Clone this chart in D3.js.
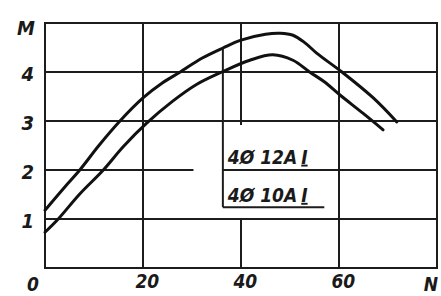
<!DOCTYPE html>
<html>
<head>
<meta charset="utf-8">
<script src="https://cdn.jsdelivr.net/npm/d3@7"></script>
<style>
  body { margin: 0; background: #fff; }
  text { font-family: "DejaVu Sans Condensed", "DejaVu Sans", sans-serif; font-style: italic; font-weight: bold; fill: #1a1a1a; }
</style>
</head>
<body>
<div id="chart"></div>
<script>
// curve data: [N, M]
var curve12A = [[0, 1.18], [4, 1.65], [7.1, 2], [11, 2.5], [15.3, 3], [20, 3.47], [24, 3.78], [27.6, 4],
    [32, 4.28], [36.3, 4.49], [40, 4.65], [45, 4.77], [48, 4.79], [50.6, 4.75], [53, 4.6], [55.5, 4.38],
    [60.6, 4.0], [67, 3.47], [71.8, 2.98]];
var curve10A = [[0, 0.73], [2.7, 1.0], [7, 1.5], [11.9, 2], [16, 2.48], [20.8, 2.96], [26, 3.4], [31, 3.75],
    [36.1, 4.0], [41.8, 4.24], [46.5, 4.35], [50.6, 4.24], [54, 4.0], [57, 3.8], [60.2, 3.53], [65, 3.15], [69, 2.82]];
var xTicks = [20, 40, 60];
var yTicks = [1, 2, 3, 4];
var legendLabels = ["4Ø 12A", "4Ø 10A"];

var width = 441, height = 296;
var margin = { top: 23, right: 4, bottom: 28, left: 45 };

var svg = d3.select("#chart").append("svg")
    .attr("width", width)
    .attr("height", height);

var x = d3.scaleLinear().domain([0, 80]).range([margin.left, width - margin.right]);
var y = d3.scaleLinear().domain([0, 5]).range([height - margin.bottom, margin.top]);

var ink = "#1c1c1c";

// legend box sits at N = 36.3 .. 57, M = 1.24 .. 3
var legX0 = 36.3, legX1 = 57, legY0 = 1.24, legTop = 4.49;

var grid = svg.append("g").attr("stroke", ink).attr("stroke-width", 2).attr("fill", "none");

// horizontal grid lines (the M=2 one is broken left of the legend)
var hSegs = [[4, 0, 80], [3, 0, 80], [1, 0, 80], [2, 0, 30.3], [2, legX0, 80]];
hSegs.forEach(function (s) {
    grid.append("line")
        .attr("x1", x(s[1])).attr("x2", x(s[2]))
        .attr("y1", y(s[0])).attr("y2", y(s[0]));
});

// vertical grid lines (N=40 one is broken behind the legend)
var vSegs = [[20, 0, 5], [60, 0, 5], [40, 2.92, 5], [40, 0, 1]];
vSegs.forEach(function (s) {
    grid.append("line")
        .attr("x1", x(s[0])).attr("x2", x(s[0]))
        .attr("y1", y(s[1])).attr("y2", y(s[2]));
});

// frame
grid.append("rect")
    .attr("x", x(0)).attr("y", y(5))
    .attr("width", x(80) - x(0)).attr("height", y(0) - y(5));

// legend lines: drop line from the upper curve and bottom rule
grid.append("line")
    .attr("x1", x(legX0)).attr("x2", x(legX0))
    .attr("y1", y(legTop)).attr("y2", y(legY0));
grid.append("line")
    .attr("x1", x(legX0)).attr("x2", x(legX1))
    .attr("y1", y(legY0)).attr("y2", y(legY0));

// curves
var line = d3.line()
    .x(function (d) { return x(d[0]); })
    .y(function (d) { return y(d[1]); })
    .curve(d3.curveCatmullRom.alpha(0.5));

[curve12A, curve10A].forEach(function (c) {
    svg.append("path")
        .datum(c)
        .attr("d", line)
        .attr("fill", "none")
        .attr("stroke", "#111")
        .attr("stroke-width", 3)
        .attr("stroke-linecap", "round");
});

// legend text
var legBase = [2.13, 1.35];
legendLabels.forEach(function (t, i) {
    var tx = svg.append("text")
        .attr("x", x(legX0) + 5)
        .attr("y", y(legBase[i]))
        .style("font-size", "19px");
    tx.append("tspan").text(t);
    tx.append("tspan").attr("dx", 4).style("text-decoration", "underline").text("I");
});

// axes (labels only)
var yAxis = svg.append("g")
    .attr("transform", "translate(" + (margin.left) + ",0)")
    .call(d3.axisLeft(y).tickValues(yTicks).tickSize(0).tickPadding(11).tickFormat(d3.format("d")));
yAxis.select(".domain").remove();
yAxis.selectAll(".tick text")
    .style("font-size", "20px")
    .attr("dy", "0.4em");

var xAxis = svg.append("g")
    .attr("transform", "translate(0," + y(0) + ")")
    .call(d3.axisBottom(x).tickValues(xTicks).tickSize(0).tickPadding(7).tickFormat(d3.format("d")));
xAxis.select(".domain").remove();
xAxis.selectAll(".tick text")
    .style("font-size", "19px")
    .attr("dx", "0.2em");

// axis names and origin
svg.append("text").attr("x", x(0) - 10).attr("y", y(5) + 12)
    .attr("text-anchor", "end").style("font-size", "20px").text("M");
svg.append("text").attr("x", x(80) - 6).attr("y", y(0) + 23)
    .attr("text-anchor", "middle").style("font-size", "19px").text("N");
svg.append("text").attr("x", x(0) - 12).attr("y", y(0) + 23)
    .attr("text-anchor", "middle").style("font-size", "19px").text("0");
</script>
</body>
</html>
